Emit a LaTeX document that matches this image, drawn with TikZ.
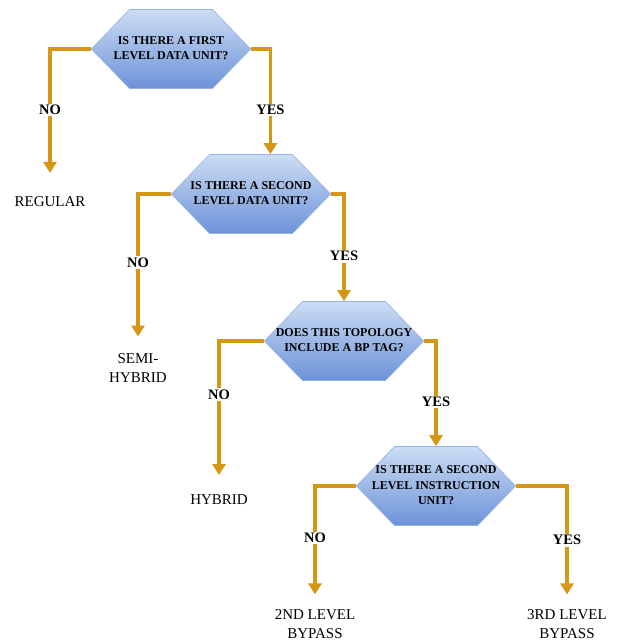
\documentclass[tikz,border=0pt]{standalone}
\usepackage{fontspec}
\setmainfont{Liberation Serif}
\usepackage{tikz}
\usetikzlibrary{arrows.meta}
\usetikzlibrary{shapes.symbols}
\usetikzlibrary{positioning}

\definecolor{flowc}{RGB}{214,150,22}
\definecolor{hextop}{RGB}{204,221,244}
\definecolor{hexbot}{RGB}{108,146,216}
\definecolor{hexline}{RGB}{150,180,226}

% question text may run past the flat top of the hexagon
\newcommand{\qlines}[1]{\makebox[83pt]{\begin{tabular}{@{}c@{}}#1\end{tabular}}}

\tikzset{
  question/.style={signal, signal to=west and east, signal pointer angle=92,
    minimum width=158pt, minimum height=79pt, inner sep=0pt,
    top color=hextop, bottom color=hexbot, draw=hexline, line width=0.6pt,
    font=\fontsize{12}{15.5}\selectfont\bfseries},
  result/.style={align=center, inner sep=2pt, outer ysep=15pt,
    font=\fontsize{15}{19}\selectfont},
  flow/.style={draw=flowc, line width=3.2pt,
    -{Triangle[length=11pt,width=13pt]}},
  answer/.style={fill=white, inner sep=1.5pt, text=black,
    font=\fontsize{14.5}{16}\selectfont\bfseries}
}

\begin{document}
\begin{tikzpicture}[x=1pt, y=-1pt]
      \useasboundingbox (0, 0) rectangle (618, 643);

      \node [question] (q1) at (171, 49) {\qlines{IS THERE A FIRST\\LEVEL DATA UNIT?}};
      \node [question] (q2) at (251, 194) {\qlines{IS THERE A SECOND\\LEVEL DATA UNIT?}};
      \node [question] (q3) at (344, 341) {\qlines{DOES THIS TOPOLOGY\\INCLUDE A BP TAG?}};
      \node [question] (q4) at (436, 486) {\qlines{IS THERE A SECOND\\LEVEL INSTRUCTION\\UNIT?}};

      \node [result, outer ysep=22pt] (regular) at (50, 202) {REGULAR};
      \node [result] (semihybrid) at (138, 368) {SEMI-\\HYBRID};
      \node [result, outer ysep=18pt] (hybrid) at (219, 500) {HYBRID};
      \node [result, outer ysep=13pt] (bypass2) at (315, 624) {2ND LEVEL\\BYPASS};
      \node [result, outer ysep=13pt] (bypass3) at (567, 624) {3RD LEVEL\\BYPASS};

      \draw [flow] (q1.west) -| node [answer, pos=0.746] {NO} (regular.north);
      \draw [flow] (q1.east) -| node [answer, pos=0.79] {YES} (q2.64);

      \draw [flow] (q2.west) -| node [answer, pos=0.74] {NO} (semihybrid.north);
      \draw [flow] (q2.east) -| node [answer, pos=0.79] {YES} (q3.north);

      \draw [flow] (q3.west) -| node [answer, pos=0.7] {NO} (hybrid.north);
      \draw [flow] (q3.east) -| node [answer, pos=0.79] {YES} (q4.north);

      \draw [flow] (q4.west) -| node [answer, pos=0.74] {NO} (bypass2.north);
      \draw [flow] (q4.east) -| node [answer, pos=0.75] {YES} (bypass3.north);
\end{tikzpicture}
\end{document}
